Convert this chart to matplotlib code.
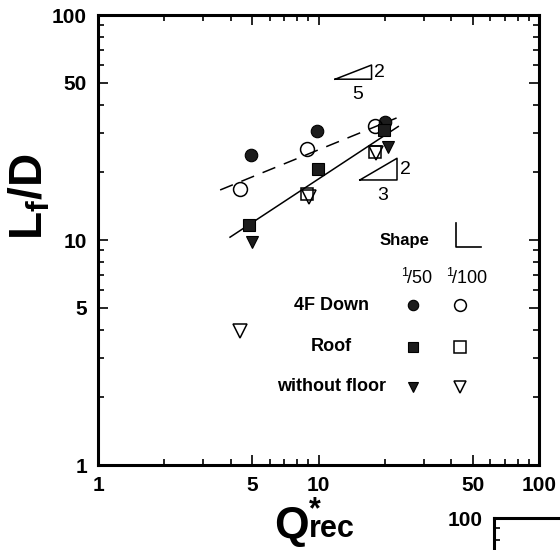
import numpy as np
import matplotlib
matplotlib.use("Agg")
import matplotlib.pyplot as plt
from matplotlib.ticker import FixedLocator, NullFormatter, FixedFormatter

plt.rcParams['font.family'] = ['Liberation Sans', 'DejaVu Sans']
plt.rcParams['mathtext.fontset'] = 'custom'
plt.rcParams['mathtext.rm'] = 'Liberation Sans'
plt.rcParams['mathtext.bf'] = 'Liberation Sans:bold'
plt.rcParams['mathtext.it'] = 'Liberation Sans:italic'

# 4F Down, 1/50 (filled) and 1/100 (open)
down50_q = [4.93, 9.84, 20.0]
down50_l = [23.9, 30.5, 33.6]
down100_q = [4.41, 8.84, 18.1]
down100_l = [16.8, 25.4, 32.1]
# Roof
roof50_q = [4.84, 9.95, 19.8]
roof50_l = [11.7, 20.7, 30.8]
roof100_q = [8.87, 18.0]
roof100_l = [16.0, 24.6]
# without floor
wof50_q = [4.99, 20.6]
wof50_l = [9.8, 26.0]
wof100_q = [4.41, 9.06, 18.2]
wof100_l = [3.95, 15.5, 24.3]

# fitted lines  L/D = a * (Q/q0)^b
dash_q = [3.58, 22.6]
dash_a, dash_b = 16.7, 0.4
solid_q = [3.97, 23.0]
solid_a, solid_b = 10.3, 0.645

# slope triangles: left q, right q, bottom L, top L, run label, rise label
slopes = [
    (11.9, 17.4, 51.9, 60.0, '5', '2'),
    (15.4, 22.7, 18.5, 23.1, '3', '2'),
]

tick_vals = [1, 5, 10, 50, 100]
tick_labels = ['1', '5', '10', '50', '100']
minor_vals = [v * d for d in (1, 10) for v in (2, 3, 4, 6, 7, 8, 9)]

fig = plt.figure(figsize=(5.6, 5.5), dpi=100)
ax = fig.add_axes([0.175, 0.1545, 0.7875, 0.818])
ax.set_xscale('log')
ax.set_yscale('log')
ax.set_xlim(1, 100)
ax.set_ylim(1, 100)

for axis in (ax.xaxis, ax.yaxis):
    axis.set_major_locator(FixedLocator(tick_vals))
    axis.set_major_formatter(FixedFormatter(tick_labels))
    axis.set_minor_locator(FixedLocator(minor_vals))
    axis.set_minor_formatter(NullFormatter())

ax.tick_params(which='both', direction='in', top=True, right=True, width=1.2)
ax.tick_params(which='major', length=7.5)
ax.tick_params(which='minor', length=4.5)
ax.tick_params(axis='y', which='major', pad=8, labelsize=15)
ax.tick_params(axis='x', which='major', pad=8, labelsize=15)
for lab in ax.get_xticklabels() + ax.get_yticklabels():
    lab.set_fontweight('bold')
for sp in ax.spines.values():
    sp.set_linewidth(2.2)

# lines
q = np.array(dash_q)
ax.plot(q, dash_a * (q / dash_q[0]) ** dash_b, color='black', lw=1.1,
        dashes=(9, 6))
q = np.array(solid_q)
ax.plot(q, solid_a * (q / solid_q[0]) ** solid_b, color='black', lw=1.1)

fill = '#1c1c1c'
ax.plot(down50_q, down50_l, 'o', ms=9, mfc=fill, mec='black', mew=0.8)
ax.plot(down100_q, down100_l, 'o', ms=10, mfc='none', mec='black', mew=1.1)
ax.plot(roof50_q, roof50_l, 's', ms=8, mfc=fill, mec='black', mew=0.8)
ax.plot(roof100_q, roof100_l, 's', ms=8.5, mfc='none', mec='black', mew=1.1)
ax.plot(wof50_q, wof50_l, 'v', ms=9, mfc=fill, mec='black', mew=0.8)
ax.plot(wof100_q, wof100_l, 'v', ms=9.5, mfc='none', mec='black', mew=1.1)

# slope triangles
for q0, q1, l0, l1, run, rise in slopes:
    ax.plot([q0, q1, q1, q0], [l0, l0, l1, l0], color='black', lw=1.1)
    ax.text(np.sqrt(q0 * q1) * 1.05, l0 * 0.93, run, fontsize=14,
            ha='center', va='top')
    ax.text(q1 * 1.03, np.sqrt(l0 * l1), rise, fontsize=14,
            ha='left', va='center')

# legend drawn by hand
tr = ax.transAxes
ax.text(0.696, 0.50, 'Shape', transform=tr, fontsize=12, fontweight='bold',
        ha='center', va='center')
ax.plot([0.812, 0.812, 0.869], [0.538, 0.485, 0.485], transform=tr,
        color='black', lw=1.2)
ax.text(0.7225, 0.4156, r'$^{1}\!/\mathrm{50}$', transform=tr, fontsize=13,
        ha='center', va='center')
ax.text(0.836, 0.4156, r'$^{1}\!/\mathrm{100}$', transform=tr, fontsize=13,
        ha='center', va='center')
rows = [('4F Down', 'o', 0.3556), ('Roof', 's', 0.263), ('without floor', 'v', 0.174)]
for name, mk, fy in rows:
    ax.text(0.53, fy, name, transform=tr, fontsize=13, fontweight='bold',
            ha='center', va='center')
    ax.plot([0.714], [fy], mk, transform=tr, ms=7.5, mfc=fill, mec='black',
            mew=0.8)
    ax.plot([0.821], [fy], mk, transform=tr, ms=8.5, mfc='none', mec='black',
            mew=1.1)

fig.text(30 / 560, 1 - 197 / 550, r'$\mathbf{L_f/D}$', rotation=90,
         fontsize=33, ha='center', va='center')
# x label: Q, with the star stacked over the subscript "rec"
fig.text(291 / 560, 1 - 538 / 550, 'Q', fontsize=32, fontweight='bold',
         ha='center', va='baseline')
fig.text(309 / 560, 1 - 537 / 550, '*\nrec', fontsize=22, fontweight='bold',
         ha='left', va='baseline', multialignment='left', linespacing=0.5)

# next panel peeking in at bottom right
ax2 = fig.add_axes([494 / 560, -0.76, 0.5, 0.818])
ax2.set_yscale('log')
ax2.set_ylim(1, 100)
ax2.yaxis.set_major_locator(FixedLocator([100]))
ax2.yaxis.set_major_formatter(FixedFormatter(['100']))
ax2.yaxis.set_minor_locator(FixedLocator(minor_vals))
ax2.yaxis.set_minor_formatter(NullFormatter())
ax2.set_xticks([])
ax2.tick_params(which='both', direction='in', width=1.2)
ax2.tick_params(which='major', length=7.5, pad=8, labelsize=15)
ax2.tick_params(which='minor', length=4.5)
for lab in ax2.get_yticklabels():
    lab.set_fontweight('bold')
for sp in ax2.spines.values():
    sp.set_linewidth(2.2)

fig.savefig('out.png', dpi=100)
